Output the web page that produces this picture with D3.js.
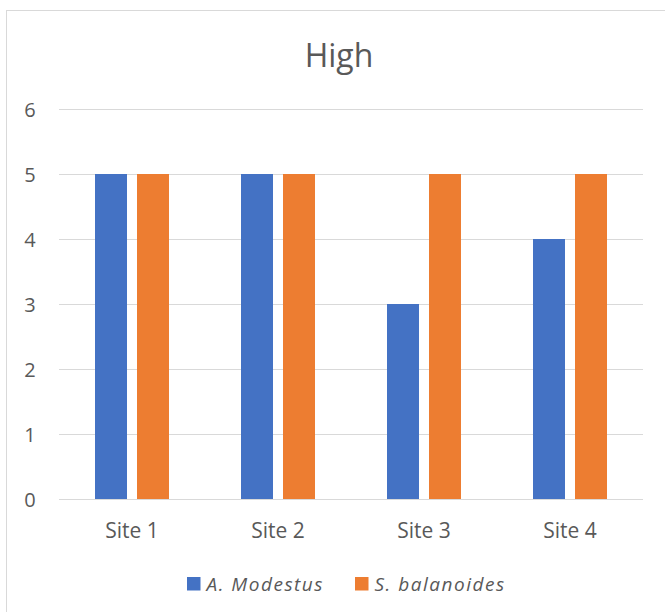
<!DOCTYPE html>
<html>
<head>
<meta charset="utf-8">
<script src="https://cdn.jsdelivr.net/npm/d3@7"></script>
<style>
  html, body { margin: 0; padding: 0; background: #fff; }
  svg { display: block; }
  text { font-family: "Open Sans", "Noto Sans", sans-serif; fill: #595959; }
</style>
</head>
<body>
<svg id="chart" width="665" height="612"></svg>
<script>
const categories = ["Site 1", "Site 2", "Site 3", "Site 4"];
const seriesNames = ["A. Modestus", "S. balanoides"];
const modestus = [5, 5, 3, 4];
const balanoides = [5, 5, 5, 5];
const yTicks = [0, 1, 2, 3, 4, 5, 6];
const colors = ["#4472C4", "#ED7D31"];

const seriesValues = [modestus, balanoides];
const svg = d3.select("#chart");

// chart frame
svg.append("rect")
  .attr("x", 6.5).attr("y", 10.5)
  .attr("width", 680).attr("height", 620)
  .attr("fill", "#fff").attr("stroke", "#d9d9d9").attr("stroke-width", 1);

const plot = { left: 59, right: 643, top: 109, bottom: 499 };

const x0 = d3.scaleBand()
  .domain(categories)
  .range([plot.left, plot.right])
  .paddingInner(72 / 146)
  .paddingOuter(36 / 146);

const x1 = d3.scaleBand()
  .domain(seriesNames)
  .range([0, x0.bandwidth()])
  .paddingInner(10 / 42);

const y = d3.scaleLinear().domain([0, 6]).range([plot.bottom, plot.top]);

// gridlines
svg.append("g")
  .attr("transform", `translate(${plot.left},0)`)
  .call(d3.axisLeft(y).tickValues(yTicks).tickSize(-(plot.right - plot.left)).tickFormat(""))
  .call(g => g.select(".domain").remove())
  .call(g => g.selectAll("line").attr("stroke", "#d9d9d9").attr("stroke-width", 1));

// y tick labels
svg.append("g")
  .attr("transform", `translate(30,0)`)
  .call(d3.axisLeft(y).tickValues(yTicks).tickFormat(d3.format("d")).tickSize(0).tickPadding(0))
  .call(g => g.select(".domain").remove())
  .call(g => g.selectAll("text")
    .attr("text-anchor", "middle")
    .attr("dy", "0.36em")
    .style("font-size", "20px").attr("fill", "#595959"));

// bars
const groups = svg.append("g").selectAll("g")
  .data(categories)
  .join("g")
  .attr("transform", d => `translate(${x0(d)},0)`);

groups.selectAll("rect")
  .data((d, i) => seriesNames.map((s, k) => ({ s, v: seriesValues[k][i], k })))
  .join("rect")
  .attr("x", d => x1(d.s))
  .attr("width", x1.bandwidth())
  .attr("y", d => y(d.v))
  .attr("height", d => y(0) - y(d.v))
  .attr("fill", d => colors[d.k]);

// x axis labels
svg.append("g")
  .attr("transform", `translate(0,${plot.bottom})`)
  .call(d3.axisBottom(x0).tickSize(0).tickPadding(0))
  .call(g => g.select(".domain").remove())
  .call(g => g.selectAll("text")
    .attr("dy", null).attr("y", 39)
    .style("font-size", "21px").attr("fill", "#595959"));

// baseline above the bars
svg.append("line")
  .attr("x1", plot.left).attr("x2", plot.right)
  .attr("y1", y(0) + 0.5).attr("y2", y(0) + 0.5)
  .attr("stroke", "#d9d9d9");

// title
svg.append("text")
  .attr("x", 339).attr("y", 67)
  .attr("text-anchor", "middle")
  .style("font-size", "32px")
  .text("High");

// legend
const legendX = [187, 355];
const legend = svg.append("g").selectAll("g")
  .data(seriesNames)
  .join("g")
  .attr("transform", (d, i) => `translate(${legendX[i]},577)`);
legend.append("rect")
  .attr("width", 13.5).attr("height", 13.5)
  .attr("fill", (d, i) => colors[i]);
legend.append("text")
  .attr("x", 19.5).attr("y", 13.5)
  .style("font-size", "19px")
  .style("font-style", "italic")
  .style("letter-spacing", "1.5px")
  .text(d => d);
</script>
</body>
</html>
